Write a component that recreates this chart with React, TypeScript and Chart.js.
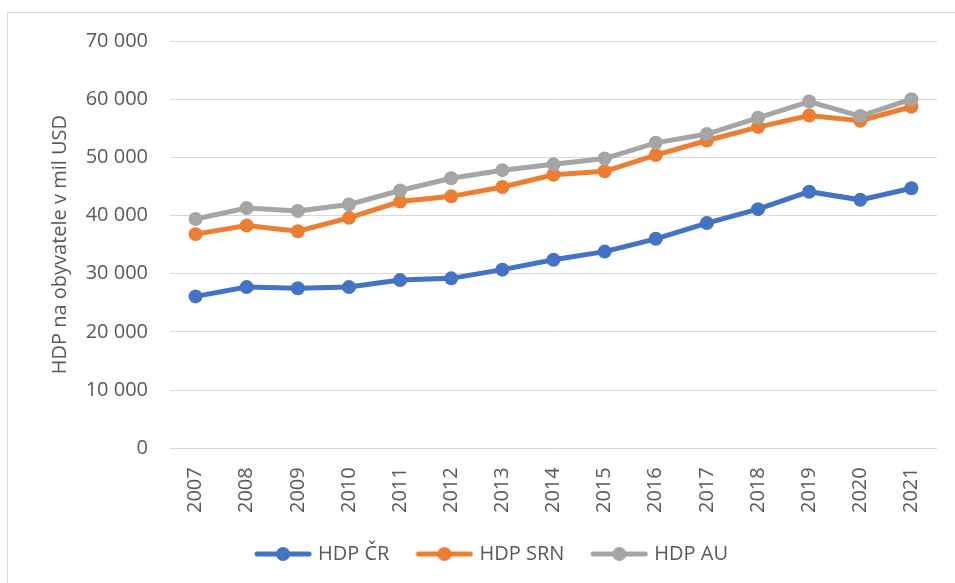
import React, { useEffect, useRef } from "react";
import { Chart, registerables } from "chart.js";

Chart.register(...registerables);

const years = ["2007", "2008", "2009", "2010", "2011", "2012", "2013", "2014", "2015", "2016", "2017", "2018", "2019", "2020", "2021"];
const hdpCR = [26100, 27700, 27500, 27700, 28900, 29200, 30700, 32400, 33800, 36000, 38700, 41100, 44100, 42700, 44700];
const hdpSRN = [36800, 38300, 37300, 39600, 42400, 43300, 44900, 47000, 47600, 50400, 52900, 55200, 57200, 56300, 58700];
const hdpAU = [39400, 41300, 40800, 41900, 44300, 46400, 47800, 48800, 49800, 52500, 54000, 56800, 59600, 57100, 60000];
const seriesNames = ["HDP ČR", "HDP SRN", "HDP AU"];
const colors = ["#4472C4", "#ED7D31", "#A5A5A5"];

const FONT = "'Open Sans', sans-serif";
const TEXT = "#595959";

function fmt(v: number) {
  return String(v).replace(/\B(?=(\d{3})+(?!\d))/g, " ");
}

function legendIcon(color: string) {
  const c = document.createElement("canvas");
  c.width = 58;
  c.height = 16;
  const ctx = c.getContext("2d")!;
  ctx.strokeStyle = color;
  ctx.lineWidth = 5;
  ctx.lineCap = "round";
  ctx.beginPath();
  ctx.moveTo(3, 8);
  ctx.lineTo(55, 8);
  ctx.stroke();
  ctx.fillStyle = color;
  ctx.beginPath();
  ctx.arc(29, 8, 7, 0, Math.PI * 2);
  ctx.fill();
  return c;
}

const framePlugin = {
  id: "frame",
  beforeDraw(chart: any) {
    const ctx = chart.ctx;
    ctx.save();
    ctx.fillStyle = "#ffffff";
    ctx.fillRect(0, 0, chart.width, chart.height);
    ctx.strokeStyle = "#d9d9d9";
    ctx.lineWidth = 1;
    ctx.strokeRect(7.5, 12.5, chart.width + 10, chart.height + 10);
    ctx.restore();
  },
};

export default function App() {
  const ref = useRef<HTMLCanvasElement | null>(null);
  useEffect(() => {
    if (!ref.current) return;
    const icons = colors.map(legendIcon);
    const seriesData = [hdpCR, hdpSRN, hdpAU];
    const chart = new Chart(ref.current, {
      type: "line",
      data: {
        labels: years,
        datasets: seriesData.map((d, i) => ({
          label: seriesNames[i],
          data: d,
          borderColor: colors[i],
          backgroundColor: colors[i],
          borderWidth: 5,
          pointRadius: 7,
          pointHoverRadius: 7,
          pointBorderWidth: 0,
          pointBackgroundColor: colors[i],
          tension: 0,
          order: 2 - i,
        })),
      },
      options: {
        responsive: false,
        animation: false,
        layout: { padding: { left: 48, right: 17, top: 41, bottom: 9 } },
        plugins: {
          tooltip: { enabled: false },
          legend: {
            position: "bottom",
            labels: {
              usePointStyle: true,
              pointStyleWidth: 50,
              boxHeight: 16,
              padding: 30,
              color: TEXT,
              font: { family: FONT, size: 20 },
              sort: (a: any, b: any) => a.datasetIndex - b.datasetIndex,
              generateLabels: (ch: any) =>
                ch.data.datasets.map((ds: any, i: number) => ({
                  text: ds.label,
                  fillStyle: colors[i],
                  strokeStyle: colors[i],
                  lineWidth: 0,
                  pointStyle: icons[i],
                  fontColor: TEXT,
                  hidden: false,
                  datasetIndex: i,
                })),
            },
          },
        },
        scales: {
          x: {
            offset: true,
            grid: { display: false, drawTicks: false },
            border: { display: false },
            afterFit: (scale: any) => {
              scale.height -= 18;
            },
            ticks: {
              minRotation: 90,
              maxRotation: 90,
              padding: 19,
              color: TEXT,
              font: { family: FONT, size: 20 },
              autoSkip: false,
            },
          },
          y: {
            min: 0,
            max: 70000,
            grid: { color: "#d9d9d9", lineWidth: 1, drawTicks: false },
            border: { display: false },
            afterFit: (scale: any) => {
              scale.width = 122;
            },
            ticks: {
              stepSize: 10000,
              padding: 22,
              color: TEXT,
              font: { family: FONT, size: 20 },
              callback: (v: any) => fmt(Number(v)),
            },
            title: {
              display: true,
              text: "HDP na obyvatele v mil USD",
              color: TEXT,
              font: { family: FONT, size: 20 },
              padding: { top: 0, bottom: 8 },
            },
          },
        },
      } as any,
      plugins: [framePlugin],
    });
    return () => chart.destroy();
  }, []);
  return (
    <div style={{ position: "fixed", left: 0, top: 0, width: 955, height: 583 }}>
      <canvas ref={ref} width={955} height={583} style={{ width: 955, height: 583, display: "block" }} />
    </div>
  );
}
